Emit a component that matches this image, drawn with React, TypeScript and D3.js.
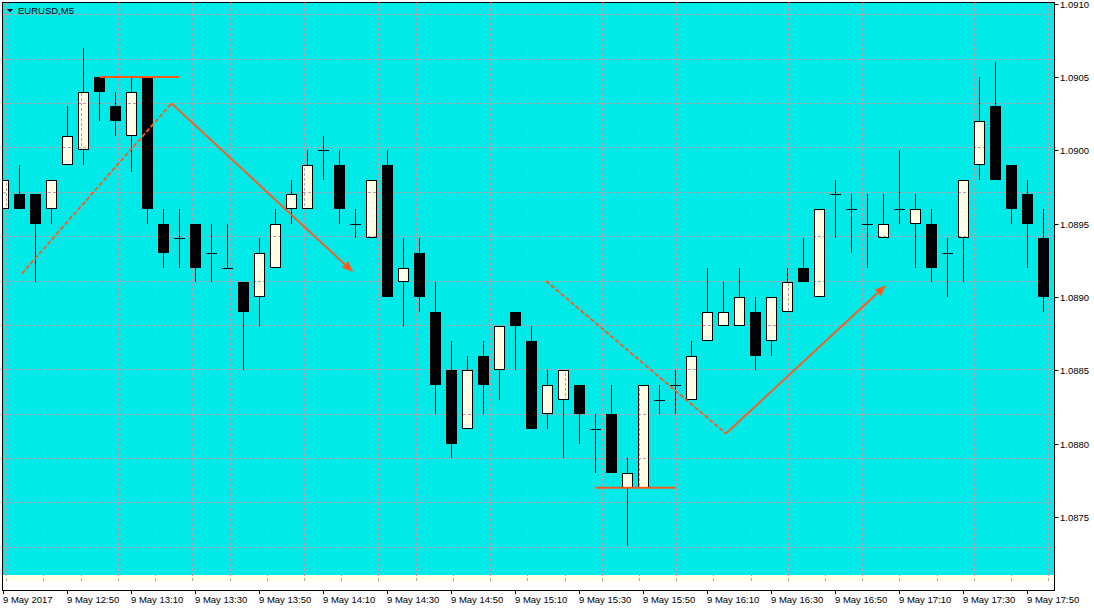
import React from "react";
import * as d3 from "d3";

// EURUSD M5, 9 May 2017, bars from 12:30 to 17:55
const opens = [
  1.0896, 1.0897, 1.0897, 1.0896, 1.0899, 1.09, 1.0905, 1.0903, 1.0901, 1.0905,
  1.0895, 1.0894, 1.0895, 1.0893, 1.0892, 1.0891, 1.089, 1.0892, 1.0896, 1.0896,
  1.09, 1.0899, 1.0895, 1.0894, 1.0899, 1.0891, 1.0893, 1.0889, 1.0885, 1.0881,
  1.0886, 1.0885, 1.0889, 1.0887, 1.0882, 1.0883, 1.0884, 1.0881, 1.0882, 1.0877,
  1.0877, 1.0883, 1.0884, 1.0883, 1.0887, 1.0888, 1.0888, 1.0889, 1.0887, 1.0889,
  1.0892, 1.089, 1.0897, 1.0896, 1.0895, 1.0894, 1.0896, 1.0895, 1.0895, 1.0893,
  1.0894, 1.0899, 1.0903, 1.0899, 1.0897, 1.0894,
];
const highs = [
  1.0898, 1.0899, 1.0897, 1.0898, 1.0903, 1.0907, 1.0905, 1.0904, 1.0905, 1.0905,
  1.0896, 1.0896, 1.0895, 1.0895, 1.0895, 1.0891, 1.0894, 1.0896, 1.0898, 1.09,
  1.0901, 1.09, 1.0896, 1.0898, 1.09, 1.0894, 1.0894, 1.0891, 1.0887, 1.0886,
  1.0887, 1.0888, 1.0889, 1.0888, 1.0885, 1.0885, 1.0884, 1.0882, 1.0884, 1.0879,
  1.0884, 1.0884, 1.0885, 1.0887, 1.0892, 1.0891, 1.0892, 1.089, 1.089, 1.0892,
  1.0894, 1.0896, 1.0898, 1.0897, 1.0897, 1.0897, 1.09, 1.0897, 1.0896, 1.0894,
  1.0898, 1.0905, 1.0906, 1.0899, 1.0898, 1.0896,
];
const lows = [
  1.0896, 1.0896, 1.0891, 1.0895, 1.0899, 1.0899, 1.0902, 1.0901, 1.08985, 1.0895,
  1.0892, 1.0892, 1.0891, 1.0891, 1.0892, 1.0885, 1.0888, 1.0892, 1.0895, 1.0896,
  1.0898, 1.0895, 1.0894, 1.0894, 1.089, 1.0888, 1.0889, 1.0882, 1.0879, 1.0881,
  1.0882, 1.0883, 1.0885, 1.0881, 1.0881, 1.0879, 1.088, 1.0878, 1.0878, 1.0873,
  1.0877, 1.0882, 1.0882, 1.0883, 1.0887, 1.0888, 1.0888, 1.0885, 1.0886, 1.0889,
  1.0891, 1.089, 1.0894, 1.0893, 1.0892, 1.0894, 1.0895, 1.0892, 1.0891, 1.089,
  1.0891, 1.0898, 1.0898, 1.0895, 1.0892, 1.0889,
];
const closes = [
  1.0898, 1.0896, 1.0895, 1.0898, 1.0901, 1.0904, 1.0904, 1.0902, 1.0904, 1.0896,
  1.0893, 1.0894, 1.0892, 1.0893, 1.0892, 1.0889, 1.0893, 1.0895, 1.0897, 1.0899,
  1.09, 1.0896, 1.0895, 1.0898, 1.089, 1.0892, 1.089, 1.0884, 1.088, 1.0885,
  1.0884, 1.0888, 1.0888, 1.0881, 1.0884, 1.0885, 1.0882, 1.0881, 1.0878, 1.0878,
  1.0884, 1.0883, 1.0884, 1.0886, 1.0889, 1.0889, 1.089, 1.0886, 1.089, 1.0891,
  1.0891, 1.0896, 1.0897, 1.0896, 1.0895, 1.0895, 1.0896, 1.0896, 1.0892, 1.0893,
  1.0898, 1.0902, 1.0898, 1.0896, 1.0895, 1.089,
];

const timeLabels = [
  "9 May 2017", "9 May 12:50", "9 May 13:10", "9 May 13:30", "9 May 13:50",
  "9 May 14:10", "9 May 14:30", "9 May 14:50", "9 May 15:10", "9 May 15:30",
  "9 May 15:50", "9 May 16:10", "9 May 16:30", "9 May 16:50", "9 May 17:10",
  "9 May 17:30", "9 May 17:50",
];
const timeLabelBars = [0, 4, 8, 12, 16, 20, 24, 28, 32, 36, 40, 44, 48, 52, 56, 60, 64];
const priceTicks = [1.0875, 1.088, 1.0885, 1.089, 1.0895, 1.09, 1.0905, 1.091];

// hand drawn objects, in (bar index, price)
const dashedSegments: [number, number, number, number][] = [
  [1.15, 1.08916, 10.5, 1.09032],
  [33.9, 1.08911, 45.15, 1.08807],
];
const arrowSegments: [number, number, number, number][] = [
  [10.5, 1.09032, 21.85, 1.08917],
  [45.15, 1.08807, 55.15, 1.08908],
];
const levelSegments: [number, number, number][] = [
  [6, 11, 1.0905],
  [37, 42, 1.0877],
];

const W = 1094;
const H = 611;
const CYAN = "#00EAE8";
const CREAM = "#FFFFE6";
const ORANGE = "#FF5A1C";
const GRID = "#b4a2ae";
const FONT = "'Liberation Sans', Arial, sans-serif";

const App: React.FC = () => {
  const x = d3.scaleLinear().domain([0, 1]).range([3.5, 19.5]);
  const y = d3.scaleLinear().domain([1.087, 1.091]).range([590.5, 3.5]);
  const py = (p: number) => Math.round(y(p));

  const bars = d3.range(opens.length);
  const bulls = bars.filter((i) => closes[i] > opens[i]);
  const hGrid = d3.range(13).map((k) => Math.round(14.3 + 44.37 * k) + 0.5);
  const vGrid = d3.range(29).map((k) => Math.round(6.2 + 37.22 * k) + 0.5);

  const line = d3.line<[number, number]>();

  const arrowHead = (x1: number, y1: number, x2: number, y2: number) => {
    const a = Math.atan2(y2 - y1, x2 - x1);
    const len = 11;
    const hw = 4.5;
    const bx = x2 - len * Math.cos(a);
    const by = y2 - len * Math.sin(a);
    const nx = -Math.sin(a) * hw;
    const ny = Math.cos(a) * hw;
    return {
      base: [bx, by] as [number, number],
      pts: `${x2},${y2} ${bx + nx},${by + ny} ${bx - nx},${by - ny}`,
    };
  };

  const grid = (key: string) => (
    <g key={key}>
      {hGrid.map((gy, k) => (
        <line key={"hg" + k} x1={3} x2={1054} y1={gy} y2={gy} stroke={GRID} strokeDasharray="3,2" />
      ))}
      {vGrid.map((gx, k) => (
        <line key={"vg" + k} x1={gx} x2={gx} y1={3} y2={581} stroke={GRID} strokeDasharray="3,2" />
      ))}
    </g>
  );

  return (
    <svg
      width={W}
      height={H}
      style={{ position: "absolute", left: 0, top: 0, display: "block", background: "#fff" }}
    >
      <defs>
        <clipPath id="plotClip">
          <rect x={3} y={3} width={1051} height={587} />
        </clipPath>
        <clipPath id="bullClip">
          {bulls.map((i) => (
            <rect
              key={"bc" + i}
              x={x(i) - 5}
              y={py(closes[i])}
              width={10}
              height={py(opens[i]) - py(closes[i])}
            />
          ))}
        </clipPath>
      </defs>

      {/* plot background */}
      <rect x={3} y={3} width={1051} height={572} fill={CYAN} />
      <rect x={3} y={575} width={1051} height={6} fill={CREAM} />

      <g clipPath="url(#plotClip)">
        {grid("g1")}

        {/* wicks */}
        {bars.map((i) => (
          <line
            key={"w" + i}
            x1={x(i)}
            x2={x(i)}
            y1={py(highs[i])}
            y2={py(lows[i])}
            stroke="#000"
            strokeWidth={1}
          />
        ))}

        {/* bull bodies fill */}
        {bulls.map((i) => (
          <rect
            key={"bf" + i}
            x={x(i) - 5}
            y={py(closes[i])}
            width={10}
            height={py(opens[i]) - py(closes[i])}
            fill={CREAM}
          />
        ))}

        {/* grid shows through bull bodies */}
        <g clipPath="url(#bullClip)">{grid("g2")}</g>

        {/* bull bodies outline */}
        {bulls.map((i) => (
          <rect
            key={"bo" + i}
            x={x(i) - 5}
            y={py(closes[i]) + 0.5}
            width={10}
            height={py(opens[i]) - py(closes[i]) - 1}
            fill="none"
            stroke="#000"
            strokeWidth={1}
          />
        ))}

        {/* bear bodies */}
        {bars
          .filter((i) => closes[i] < opens[i])
          .map((i) => (
            <rect
              key={"bb" + i}
              x={x(i) - 5.5}
              y={py(opens[i])}
              width={11}
              height={py(closes[i]) - py(opens[i])}
              fill="#000"
            />
          ))}

        {/* doji */}
        {bars
          .filter((i) => closes[i] === opens[i])
          .map((i) => (
            <line
              key={"d" + i}
              x1={x(i) - 5.5}
              x2={x(i) + 5.5}
              y1={py(opens[i]) + 0.5}
              y2={py(opens[i]) + 0.5}
              stroke="#000"
              strokeWidth={1}
            />
          ))}

        {/* drawings */}
        {levelSegments.map(([a, b, p], k) => (
          <line
            key={"lv" + k}
            x1={x(a)}
            x2={x(b)}
            y1={y(p)}
            y2={y(p)}
            stroke={ORANGE}
            strokeWidth={2}
          />
        ))}
        {dashedSegments.map(([a, p1, b, p2], k) => (
          <path
            key={"ds" + k}
            d={line([
              [x(a), y(p1)],
              [x(b), y(p2)],
            ]) as string}
            stroke={ORANGE}
            strokeWidth={1.8}
            strokeDasharray="4.5,2"
            fill="none"
          />
        ))}
        {arrowSegments.map(([a, p1, b, p2], k) => {
          const x1 = x(a);
          const y1 = y(p1);
          const x2 = x(b);
          const y2 = y(p2);
          const head = arrowHead(x1, y1, x2, y2);
          return (
            <g key={"ar" + k}>
              <path
                d={line([[x1, y1], head.base]) as string}
                stroke={ORANGE}
                strokeWidth={1.8}
                fill="none"
              />
              <polygon points={head.pts} fill={ORANGE} />
            </g>
          );
        })}
      </g>

      {/* frame */}
      <rect x={2.5} y={2.5} width={1052} height={588} fill="none" stroke="#000" strokeWidth={1} />

      {/* symbol title */}
      <polygon points="7,9 13,9 10,12.5" fill="#000" />
      <text x={18} y={14} fontFamily={FONT} fontSize={9.5} fill="#000">
        EURUSD,M5
      </text>

      {/* price axis */}
      {priceTicks.map((p) => (
        <g key={"pt" + p}>
          <line x1={1054.5} x2={1058.5} y1={py(p) + 0.5} y2={py(p) + 0.5} stroke="#000" />
          <text x={1060} y={y(p) + 4} fontFamily={FONT} fontSize={9.5} fill="#000">
            {p.toFixed(4)}
          </text>
        </g>
      ))}

      {/* time axis */}
      {timeLabels.map((t, k) => (
        <g key={"tl" + k}>
          <line
            x1={x(timeLabelBars[k])}
            x2={x(timeLabelBars[k])}
            y1={590.5}
            y2={594}
            stroke="#000"
          />
          <text x={x(timeLabelBars[k]) - 0.5} y={603} fontFamily={FONT} fontSize={9.5} fill="#000">
            {t}
          </text>
        </g>
      ))}
    </svg>
  );
};

export default App;
